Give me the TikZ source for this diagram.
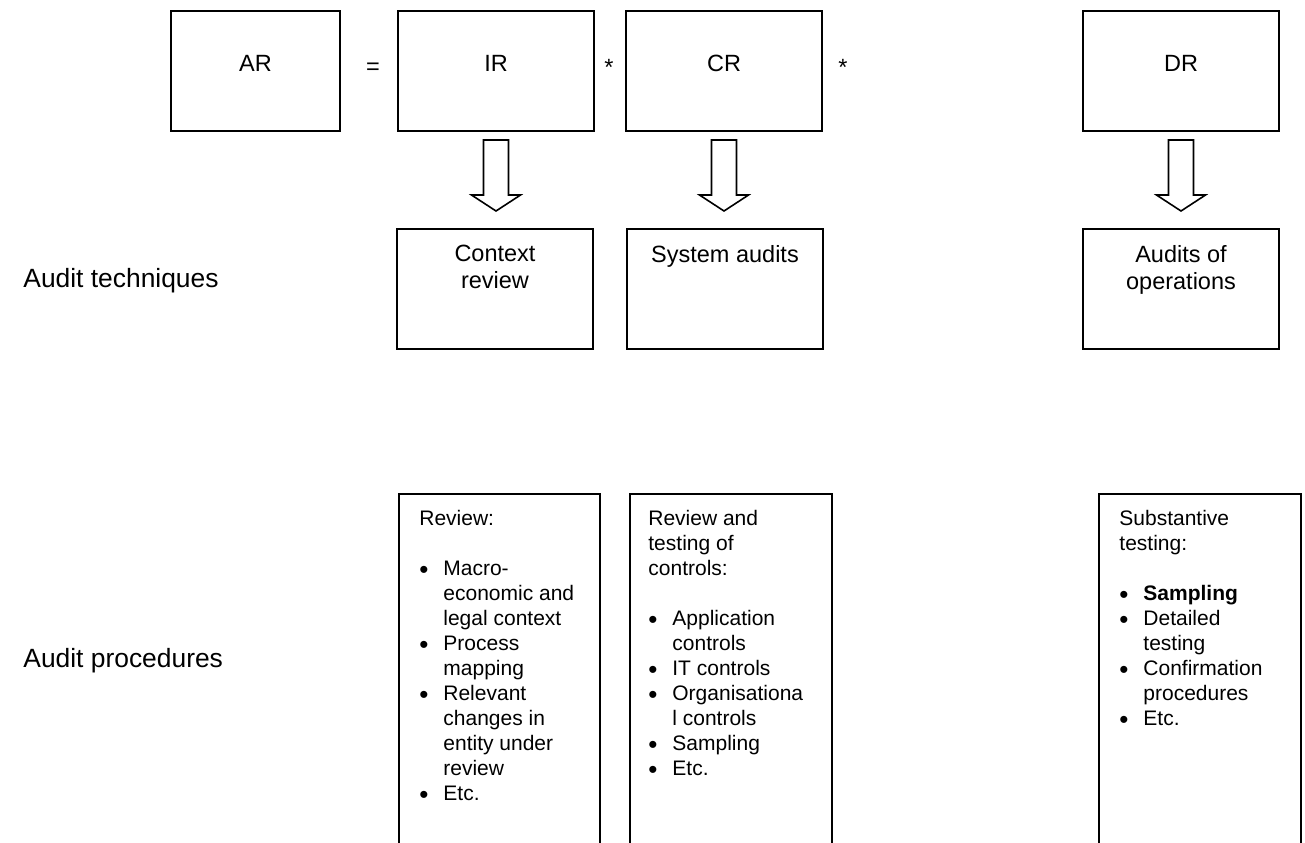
\documentclass[tikz,border=0pt]{standalone}
\usepackage{fontspec}
\setmainfont{Liberation Sans}
\usetikzlibrary{calc}
\tikzset{
  box/.style={draw, line width=1pt, rectangle, inner sep=0pt, minimum width=98pt, minimum height=60pt},
  procbox/.style={draw, line width=1pt, rectangle, inner sep=0pt, anchor=north west, minimum height=220pt},
  title/.style={inner sep=0pt, font=\fontsize{11.75}{13.5}\selectfont},
  sidelabel/.style={inner sep=0pt, anchor=base west, font=\fontsize{13.2}{15}\selectfont},
  op/.style={inner sep=0pt, anchor=base, font=\fontsize{11.75}{13.5}\selectfont},
  body/.style={inner sep=0pt, anchor=north west, align=left, font=\fontsize{10.5}{12.5}\selectfont},
  blockarrow/.style={draw, line width=0.8pt, fill=white, line join=miter}
}
\newcommand{\bul}{\makebox[12pt][l]{\raisebox{-1.6pt}{\fontsize{13}{12.5}\selectfont\textbullet}}}
\newcommand{\cont}{\hspace*{12pt}}
\begin{document}
\begin{tikzpicture}[x=0.5pt, y=-0.5pt]
\useasboundingbox (0,0) rectangle (1305,842);
\clip (0,0) rectangle (1305,842);

% top row
\node[box, minimum width=84.5pt] (ar) at (255.5,71) {};
\node[box] (ir) at (496,71) {};
\node[box] (cr) at (724,71) {};
\node[box] (dr) at (1181,71) {};
\node[op] (arT) at (255.5,71) {AR};
\node[op] (irT) at (496,71) {IR};
\node[op] (crT) at (724,71) {CR};
\node[op] (drT) at (1181,71) {DR};
\node[op] (eq) at (373,74) {=};
\node[op] (st1) at (609,75) {*};
\node[op] (st2) at (843,75) {*};

% techniques
\node[box] (ctx) at (495,289) {};
\node[box] (sys) at (725,289) {};
\node[box] (ops) at (1181,289) {};
\node[title, anchor=north, align=center] (ctxT) at (495,245) {Context\\review};
\node[title, anchor=north, align=center] (sysT) at (725,245) {System audits};
\node[title, anchor=north, align=center] (opsT) at (1181,245) {Audits of\\operations};

% block arrows
\foreach \u/\l in {ir/ctx, cr/sys, dr/ops}{
  \draw[blockarrow]
    ($(\u.south)+(-12.5,8)$) -- ($(\u.south)+(-12.5,63)$) -- ($(\u.south)+(-24.5,63)$)
    -- ($(\u.south |- \l.north)+(0,-17)$)
    -- ($(\u.south)+(24.5,63)$) -- ($(\u.south)+(12.5,63)$) -- ($(\u.south)+(12.5,8)$) -- cycle;
}

% side labels
\node[sidelabel] (tech) at (23,287) {Audit techniques};
\node[sidelabel] (proc) at (23,667) {Audit procedures};

% procedure boxes
\node[procbox, minimum width=100.5pt] (p1) at (398,493) {};
\node[procbox, minimum width=101pt] (p2) at (629,493) {};
\node[procbox, minimum width=101pt] (p3) at (1098,493) {};

\node[body] (p1T) at (419,509.5) {Review:\\[12.5pt]
\bul Macro-\\
\cont economic and\\
\cont legal context\\
\bul Process\\
\cont mapping\\
\bul Relevant\\
\cont changes in\\
\cont entity under\\
\cont review\\
\bul Etc.};

\node[body] (p2T) at (648,509.5) {Review and\\
testing of\\
controls:\\[12.5pt]
\bul Application\\
\cont controls\\
\bul IT controls\\
\bul Organisationa\\
\cont l controls\\
\bul Sampling\\
\bul Etc.};

\node[body] (p3T) at (1119,509.5) {Substantive\\
testing:\\[12.5pt]
\bul \textbf{Sampling}\\
\bul Detailed\\
\cont testing\\
\bul Confirmation\\
\cont procedures\\
\bul Etc.};
\end{tikzpicture}
\end{document}
